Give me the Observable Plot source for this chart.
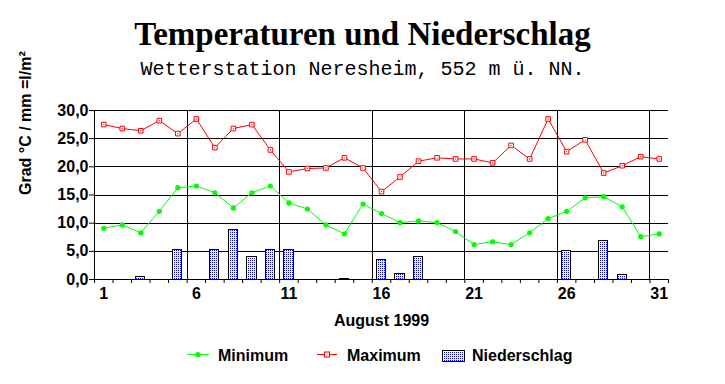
<!DOCTYPE html>
<html><head><meta charset="utf-8">
<script src="https://cdn.jsdelivr.net/npm/d3@7"></script>
<script src="https://cdn.jsdelivr.net/npm/@observablehq/plot@0.6"></script>
<style>
body{margin:0;background:#fff}
#wrap{position:relative;width:725px;height:384px;overflow:hidden;background:#fff}
#title{position:absolute;left:0;width:725px;top:18px;text-align:center;font:bold 33px/33px "Liberation Serif","Times New Roman",serif;color:#000}
#subtitle{position:absolute;left:0;width:725px;top:60px;text-align:center;font:20px/20px "Liberation Mono","Courier New",monospace;color:#000;white-space:pre}
#chart{position:absolute;left:0;top:90px}
#legend{position:absolute;left:0;top:340px}
</style>
</head><body>
<div id="wrap">
<div id="title">Temperaturen und Niederschlag</div>
<div id="subtitle">Wetterstation Neresheim, 552 m ü. NN.</div>
<div id="chart"></div>
<div id="legend"></div>
</div>
<script>
const days = [1,2,3,4,5,6,7,8,9,10,11,12,13,14,15,16,17,18,19,20,21,22,23,24,25,26,27,28,29,30,31];
const minTemp = [9.1,9.7,8.3,12.1,16.3,16.6,15.4,12.7,15.4,16.6,13.6,12.5,9.7,8.1,13.4,11.7,10.1,10.4,10.1,8.5,6.2,6.7,6.2,8.3,10.8,12.1,14.5,14.7,12.9,7.6,8.1];
const maxTemp = [27.5,26.8,26.4,28.2,25.9,28.5,23.4,26.8,27.5,23.0,19.1,19.7,19.8,21.6,19.8,15.6,18.2,21.0,21.6,21.4,21.4,20.7,23.8,21.4,28.5,22.7,24.8,18.9,20.2,21.8,21.4];
const precip = [0,0,0.5,0,5.3,0,5.3,8.8,4.0,5.3,5.3,0,0,0.1,0,3.5,1.0,4.0,0,0,0,0,0,0,0,5.0,0,6.9,0.8,0,0];
const yTicks = [0,5,10,15,20,25,30];
const xLabelTicks = [1,6,11,16,21,26,31];
const seriesNames = ["Minimum","Maximum","Niederschlag"];
const titleY = "Grad °C / mm =l/m²";
const titleX = "August 1999";

const data = days.map((d,i)=>({day:d, min:minTemp[i], max:maxTemp[i], rain:precip[i]}));
const halfTicks = d3.range(0.5, 32, 1);
const vGrid = d3.range(5.5, 31, 5);

const plot = Plot.plot({
  width:725, height:250,
  marginTop:20, marginBottom:61, marginLeft:94, marginRight:57,
  style:{fontFamily:'"Liberation Sans", Arial, sans-serif', fontSize:"16px", fontWeight:"bold", color:"black", background:"white", overflow:"visible"},
  x:{domain:[0.5,31.5]},
  y:{domain:[0,30]},
  marks:[
    Plot.gridY(yTicks,{stroke:"black", strokeOpacity:1, shapeRendering:"crispEdges"}),
    Plot.gridX(vGrid,{stroke:"black", strokeOpacity:1, shapeRendering:"crispEdges"}),
    Plot.ruleX([0.5],{stroke:"black", shapeRendering:"crispEdges"}),
    Plot.rectY(data.filter(d=>d.rain>0),{x1:d=>d.day-0.25, x2:d=>d.day+0.25, y1:0, y2:"rain", fill:"url(#dots)", stroke:"black", strokeWidth:1, shapeRendering:"crispEdges"}),
    Plot.line(data,{x:"day", y:"max", stroke:"#ff0000", strokeWidth:1}),
    Plot.dot(data,{x:"day", y:"max", symbol:"square", r:2.6, fill:"white", stroke:"#ff0000", strokeWidth:1}),
    Plot.dot(data,{x:"day", y:"max", r:0.6, fill:"#ff0000"}),
    Plot.line(data,{x:"day", y:"min", stroke:"#00ff00", strokeWidth:1}),
    Plot.dot(data,{x:"day", y:"min", r:2.6, fill:"#00ff00"}),
    Plot.axisY({ticks:yTicks, tickFormat:v=>v.toFixed(1).replace(".",","), tickSize:5, tickPadding:1, label:null}),
    Plot.axisX({ticks:xLabelTicks, tickSize:0, tickPadding:8, label:null, tickFormat:d=>String(d)}),
    Plot.axisX({ticks:halfTicks, tickSize:4, tickFormat:()=>"", label:null}),
    Plot.text([titleX], {frameAnchor:"bottom", dy:46, fontSize:16, fontWeight:"bold"}),
    Plot.text([titleY], {frameAnchor:"left", dx:-69, rotate:-90, fontSize:16, fontWeight:"bold"})
  ]
});

function addPattern(svgSel, id){
  const defs = svgSel.insert("defs", ":first-child");
  const p = defs.append("pattern").attr("id", id).attr("width", 2).attr("height", 2).attr("patternUnits", "userSpaceOnUse");
  p.append("rect").attr("width", 2).attr("height", 2).attr("fill", "white");
  p.append("rect").attr("width", 1).attr("height", 1).attr("fill", "#0000ff");
}
addPattern(d3.select(plot), "dots");
document.getElementById("chart").appendChild(plot);

// legend
const lg = d3.select("#legend").append("svg").attr("width", 725).attr("height", 44)
  .style("font-family", '"Liberation Sans", Arial, sans-serif').style("font-size", "16px").style("font-weight", "bold");
addPattern(lg, "dots2");
lg.append("line").attr("x1", 187).attr("x2", 209).attr("y1", 14.5).attr("y2", 14.5).attr("stroke", "#00ff00");
lg.append("circle").attr("cx", 198).attr("cy", 14.5).attr("r", 2.6).attr("fill", "#00ff00");
lg.append("text").attr("x", 218).attr("y", 21).text(seriesNames[0]);
lg.append("line").attr("x1", 317).attr("x2", 337).attr("y1", 14.5).attr("y2", 14.5).attr("stroke", "#ff0000");
lg.append("rect").attr("x", 324.5).attr("y", 12).attr("width", 5).attr("height", 5).attr("fill", "white").attr("stroke", "#ff0000");
lg.append("text").attr("x", 347).attr("y", 21).text(seriesNames[1]);
lg.append("rect").attr("x", 442.5).attr("y", 10.5).attr("width", 22).attr("height", 11).attr("fill", "url(#dots2)").attr("stroke", "black");
lg.append("text").attr("x", 472).attr("y", 21).text(seriesNames[2]);
</script>
</body></html>
